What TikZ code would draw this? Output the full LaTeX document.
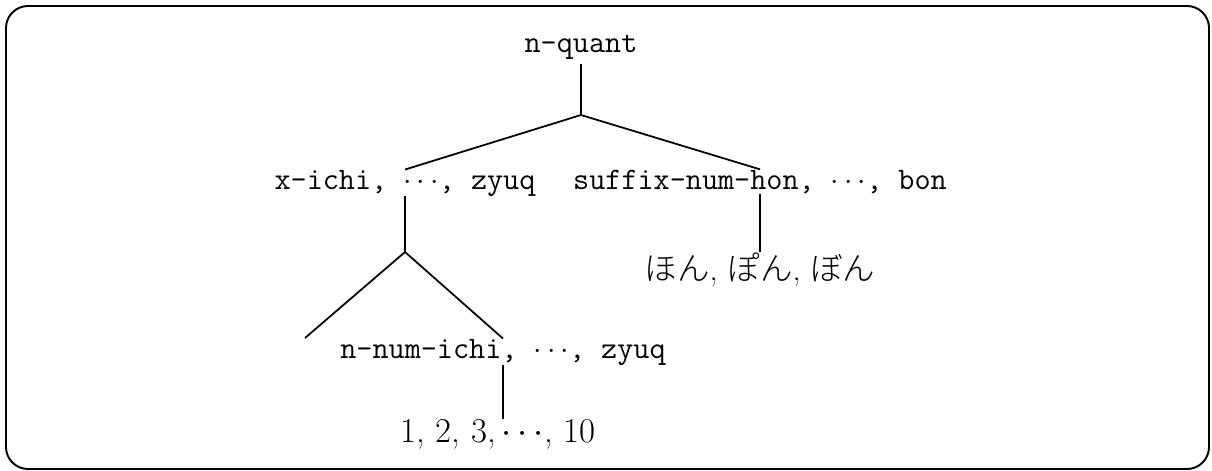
\documentclass[tikz,border=0pt]{standalone}
\usepackage{fontspec}
\newfontfamily\cjk{Noto Sans CJK JP}[UprightFont=* Light]
\begin{document}
\begin{tikzpicture}[x=0.02cm, y=-0.02cm,
  lbl/.style={inner sep=0pt, anchor=base, font=\ttfamily\fontsize{17.8}{21}\selectfont},
  rml/.style={inner sep=0pt, anchor=base, font=\rmfamily\fontsize{18.5}{22}\selectfont},
  numl/.style={inner sep=0pt, anchor=base, font=\rmfamily\fontsize{19.8}{23}\selectfont},
  edge/.style={line width=1pt},
  frame/.style={line width=1.1pt, rounded corners=0.44cm}]
\useasboundingbox (0,0) rectangle (1212,470);
% outer frame
\draw[frame] (6,6) rectangle (1209,469);

% tree labels
\node[lbl] (q)  at (581,52)  {n-quant};
\node[lbl] (l)  at (405,189) {x-ichi, $\cdots$, zyuq};
\node[lbl] (r)  at (760,189) {suffix-num-hon, $\cdots$, bon};
\node[rml] (jp) at (760,280) {{\cjk ほん}, {\cjk ぽん}, {\cjk ぼん}};
\node[lbl] (nn) at (503,358) {n-num-ichi, $\cdots$, zyuq};
\node[numl] (num) at (498,442) {1, 2, 3,\,$\cdots$, 10};

% branching points
\coordinate (a1) at (581,115);
\coordinate (a2) at (405,252);
\coordinate (e)  at (305,338);

% connectors
\draw[edge] ([yshift=-0.1cm]q.south) -- (a1);
\draw[edge] (a1) -- (l.north);
\draw[edge] (a1) -- (r.north);
\draw[edge] (r.south) -- (r.south |- jp.north);
\draw[edge] (l.south) -- (a2);
\draw[edge] (a2) -- (e);
\draw[edge] (a2) -- (nn.north);
\draw[edge] (nn.south) -- (nn.south |- num.north);
\end{tikzpicture}
\end{document}
